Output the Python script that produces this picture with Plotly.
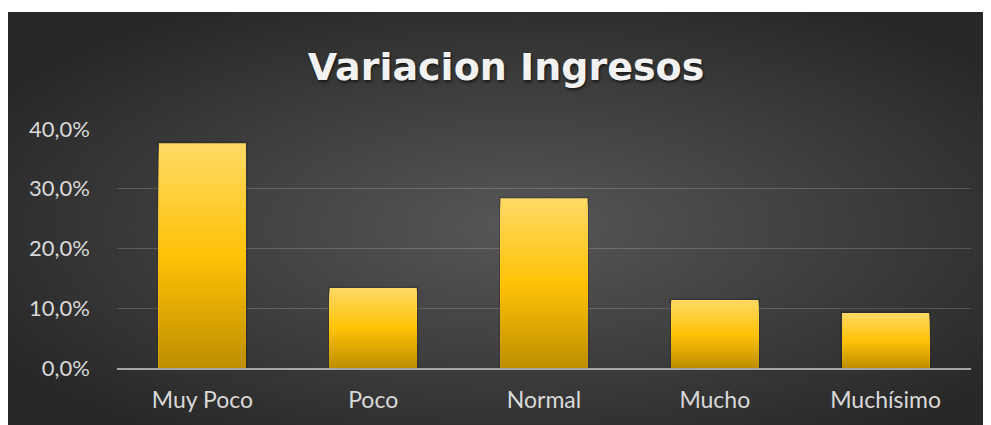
import base64
import plotly.graph_objects as go

categories = ["Muy Poco", "Poco", "Normal", "Mucho", "Muchísimo"]
values = [0.376, 0.134, 0.284, 0.114, 0.092]
title_text = "Variacion Ingresos"

# page is offset by the 8px body margin
W, H = 983, 417
L, R, T, B = 109, 20, 121, 57
pw, ph = W - L - R, H - T - B
BG_TOP = 4

svg = f'''<svg xmlns="http://www.w3.org/2000/svg" width="983" height="413" viewBox="0 0 983 413" preserveAspectRatio="none">
<defs><radialGradient id="g" cx="0.52" cy="0.52" r="0.62" gradientUnits="objectBoundingBox">
<stop offset="0" stop-color="#575757"/><stop offset="0.55" stop-color="#3d3d3d"/><stop offset="1" stop-color="#272727"/>
</radialGradient></defs><rect width="983" height="413" fill="url(#g)"/></svg>'''
src = "data:image/svg+xml;base64," + base64.b64encode(svg.encode()).decode()

def lerp(c1, c2, t):
    return tuple(round(a + (b - a) * t) for a, b in zip(c1, c2))

stops = [(0.0, (0xBE, 0x8E, 0x00)), (0.5, (0xFF, 0xC2, 0x06)), (1.0, (0xFF, 0xDA, 0x66))]
def color_at(f):
    for (f0, c0), (f1, c1) in zip(stops, stops[1:]):
        if f <= f1:
            return "rgb(%d,%d,%d)" % lerp(c0, c1, (f - f0) / (f1 - f0))
    return "rgb(%d,%d,%d)" % stops[-1][1]

fig = go.Figure()
N = 40
fig.add_trace(go.Bar(x=categories, y=values,
                     marker=dict(color="rgba(0,0,0,0)", line=dict(color="rgba(0,0,0,0.18)", width=3)),
                     hoverinfo="skip", showlegend=False))
for k in range(N):
    frac_top = (N - k) / N
    fig.add_trace(go.Bar(
        x=categories,
        y=[v * frac_top for v in values],
        marker=dict(color=color_at(frac_top - 0.5 / N), line=dict(width=0)),
        hoverinfo="skip", showlegend=False,
    ))

fig.update_layout(
    width=W, height=H,
    margin=dict(l=L, r=R, t=T, b=B, pad=0),
    paper_bgcolor="white", plot_bgcolor="rgba(0,0,0,0)",
    barmode="overlay", bargap=0.49,
    separators=",.",
    showlegend=False,
    title=dict(text=title_text, x=498 / W, xanchor="center", y=1 - 59 / H, yanchor="middle",
               font=dict(family="DejaVu Sans", size=38, color="#f2f2f2", weight="bold",
                         shadow="1px 2px 3px rgba(0,0,0,0.6)")),
    images=[dict(source=src, xref="paper", yref="paper",
                 x=-L / pw, y=(H - B - BG_TOP) / ph,
                 sizex=W / pw, sizey=(H - BG_TOP) / ph,
                 xanchor="left", yanchor="top", sizing="stretch", layer="below")],
    font=dict(family="Lato", color="#d9d9d9", size=19),
)
fig.update_yaxes(range=[0, 0.4], dtick=0.1, tickformat=".1%", showgrid=True,
                 gridcolor="rgba(255,255,255,0.17)", gridwidth=1, zeroline=False,
                 showline=False, ticks="", ticklabelstandoff=26,
                 tickfont=dict(family="Lato", size=22, color="#d9d9d9"))
fig.update_xaxes(showline=True, linecolor="#a6a6a6", linewidth=2, ticks="",
                 showgrid=False, ticklabelstandoff=10,
                 tickfont=dict(family="Lato", size=23, color="#d9d9d9"))

fig.write_html("out.html")
